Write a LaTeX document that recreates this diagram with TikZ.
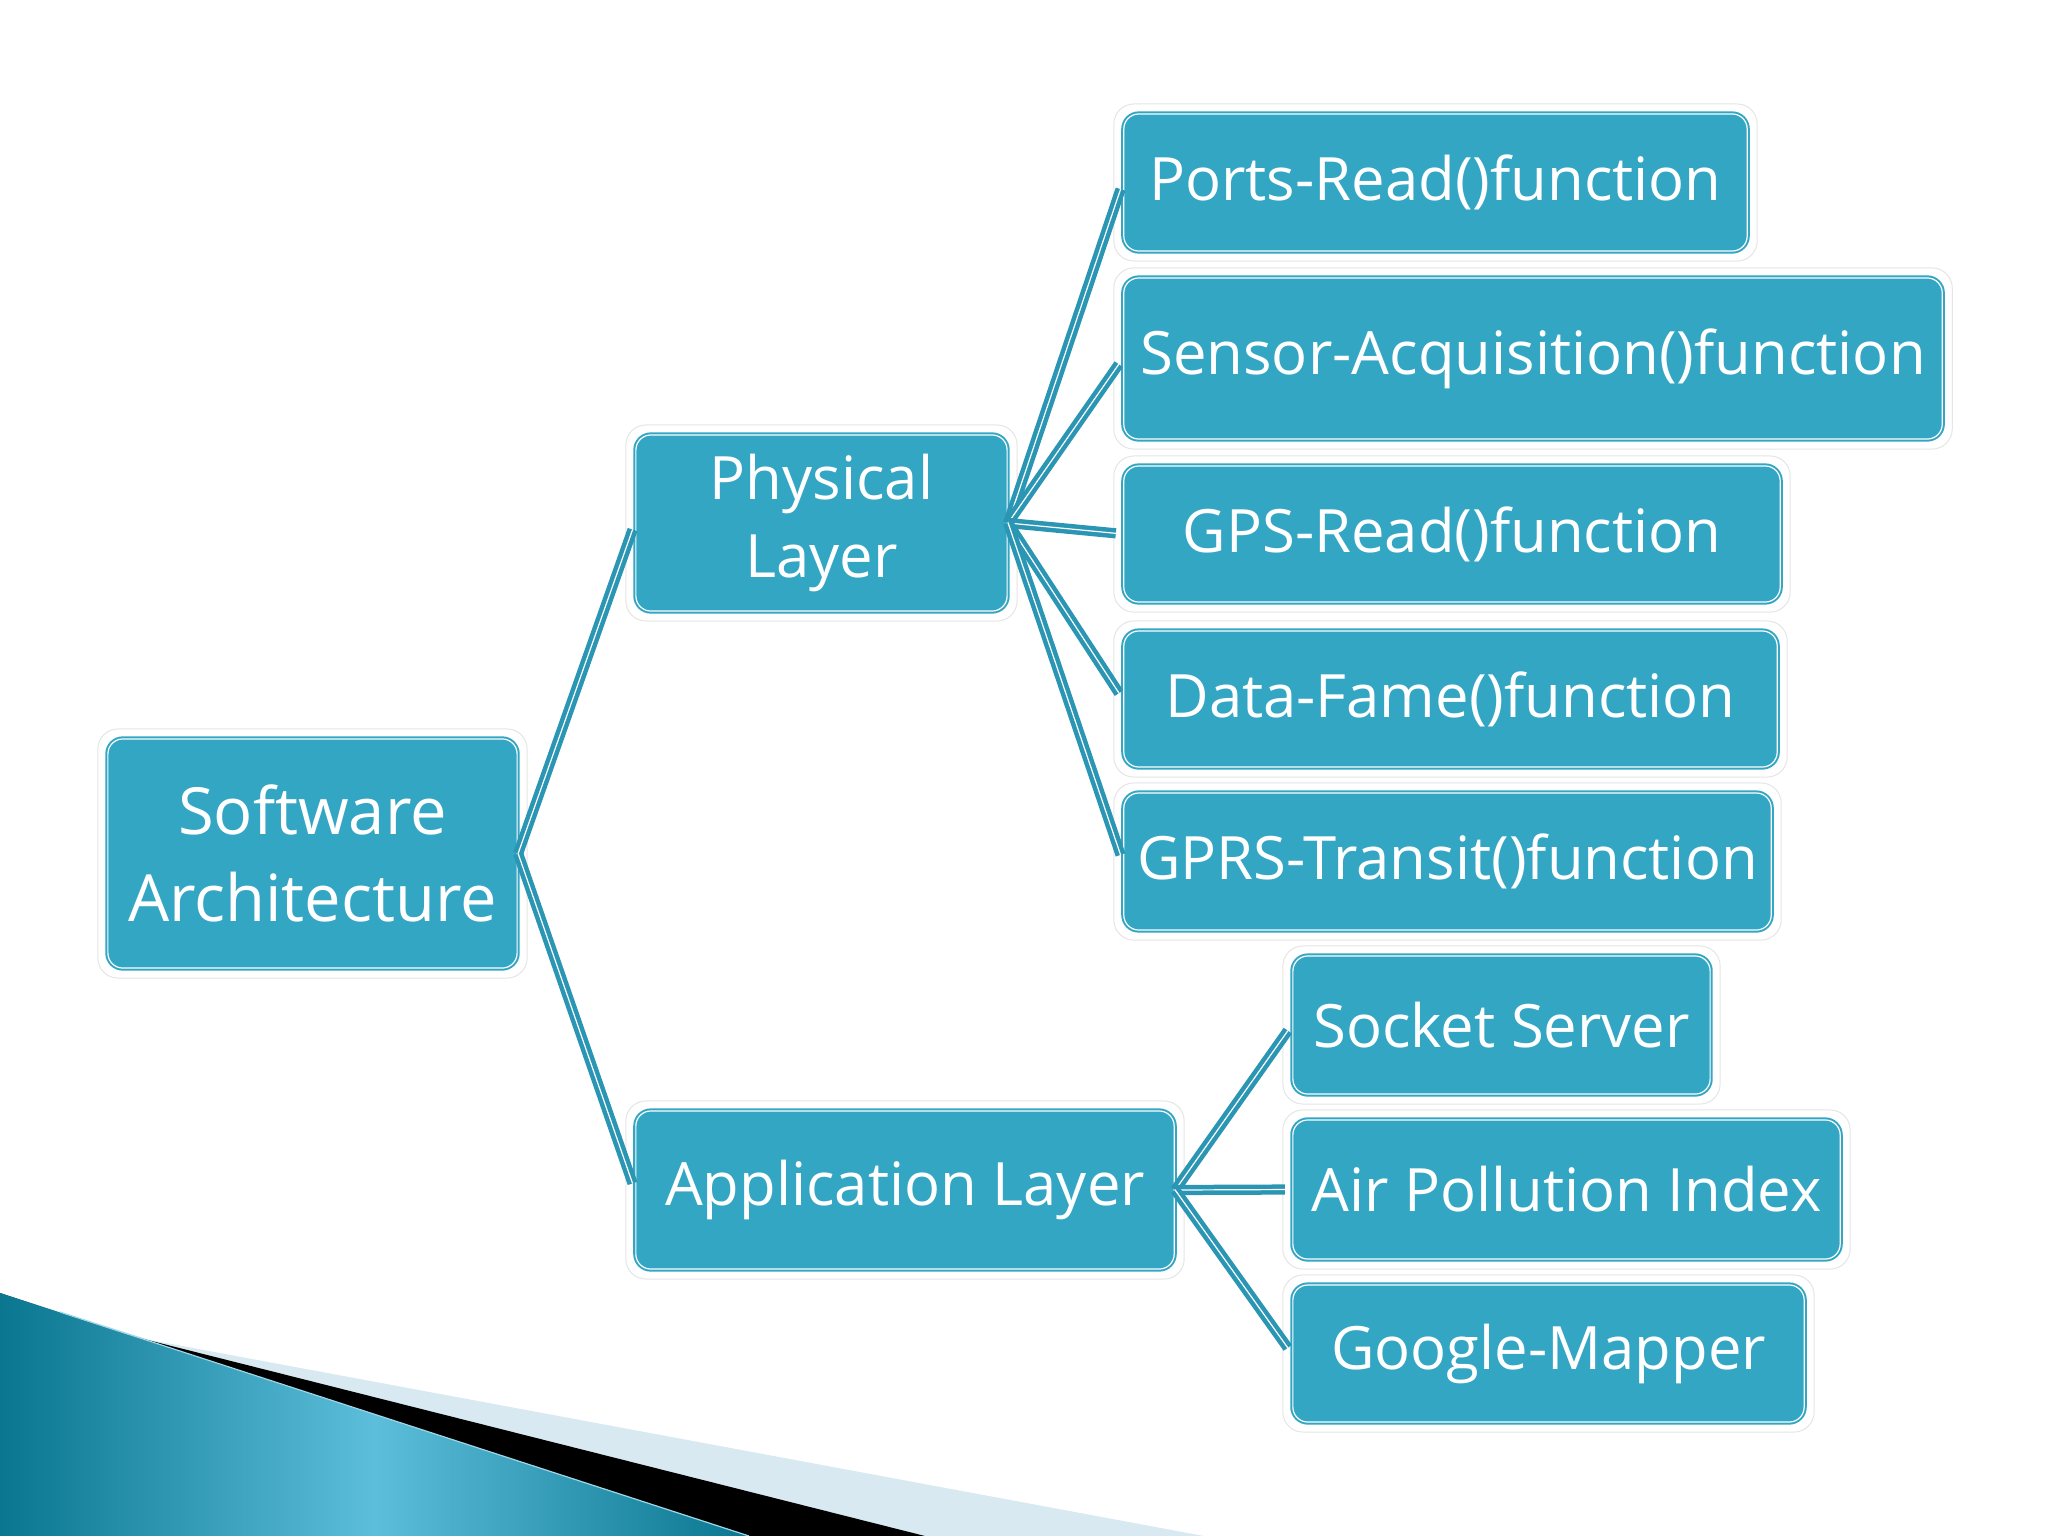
\documentclass[tikz,border=0pt]{standalone}
\usepackage{fontspec}
\setmainfont{Open Sans}
\usetikzlibrary{backgrounds}
\definecolor{boxteal}{HTML}{33A6C4}
\definecolor{linkteal}{HTML}{2B96B4}
\definecolor{darkteal}{HTML}{0A7690}
\definecolor{lightteal}{HTML}{5CBEDA}
\definecolor{paleblue}{HTML}{D8E9F1}
\tikzset{
  box/.style={rounded corners=0.15cm, fill=boxteal, draw=boxteal, line width=0.02cm,
    double=white, double distance=0.012cm, text=white, align=center, inner sep=0pt,
    font=\fontsize{17}{22.2}\selectfont},
  halostyle/.style={rounded corners=0.2cm, fill=white, draw=black!10, line width=0.01cm},
  link/.style={draw=linkteal, line width=0.045cm, double=white, double distance=0.012cm,
    shorten >=0.07cm}
}
\newcommand{\halo}[1]{\draw[halostyle] ([shift={(-9,-9)}]#1.north west) rectangle ([shift={(9,9)}]#1.south east);}
\begin{document}
\begin{tikzpicture}[x=0.01cm,y=-0.01cm]
\useasboundingbox (0,0) rectangle (2048,1536);
% nodes
\node[box, minimum width=4.09cm, minimum height=2.29cm, font=\fontsize{18.5}{24.8}\selectfont] (sa) at (312.5,853.5) {Software\\Architecture};
\node[box, minimum width=3.71cm, minimum height=1.76cm] (phys) at (821.5,523) {Physical\\Layer};
\node[box, minimum width=5.38cm, minimum height=1.58cm] (app) at (905,1190) {Application Layer};
\node[box, minimum width=6.23cm, minimum height=1.37cm] (ports) at (1435.5,182.5) {Ports-Read()function};
\node[box, minimum width=8.18cm, minimum height=1.61cm] (sensor) at (1533,358.5) {Sensor-Acquisition()function};
\node[box, minimum width=6.56cm, minimum height=1.36cm] (gps) at (1452,534) {GPS-Read()function};
\node[box, minimum width=6.53cm, minimum height=1.36cm] (data) at (1450.5,699) {Data-Fame()function};
\node[box, minimum width=6.47cm, minimum height=1.37cm] (gprs) at (1447.5,861.5) {GPRS-Transit()function};
\node[box, minimum width=4.17cm, minimum height=1.38cm] (socket) at (1501.5,1025) {Socket Server};
\node[box, minimum width=5.47cm, minimum height=1.39cm] (air) at (1566.5,1189.5) {Air Pollution Index};
\node[box, minimum width=5.11cm, minimum height=1.37cm] (google) at (1548.5,1353.5) {Google-Mapper};
% background: decoration and halos
\begin{pgfonlayer}{background}
  \fill[paleblue] (0,1293) -- (150,1340) -- (1204,1536) -- (0,1536) -- cycle;
  \fill[black] (0,1293) -- (120,1333) -- (925,1536) -- (0,1536) -- cycle;
  \shade[left color=darkteal, right color=darkteal, middle color=lightteal] (0,1293) -- (749,1536) -- (0,1536) -- cycle;
  \draw[line width=0.012cm, color=lightteal!60!white] (60,1312) -- (749,1536);
  \halo{sa}\halo{phys}\halo{app}\halo{ports}\halo{sensor}\halo{gps}\halo{data}\halo{gprs}\halo{socket}\halo{air}\halo{google}
\end{pgfonlayer}
% connectors
\draw[link] (sa.east) -- (phys.west);
\draw[link] (sa.east) -- (app.west);
\foreach \c in {ports,sensor,gps,data,gprs} \draw[link] (phys.east) -- (\c.west);
\foreach \c in {socket,air,google} \draw[link] (app.east) -- (\c.west);
\end{tikzpicture}
\end{document}
